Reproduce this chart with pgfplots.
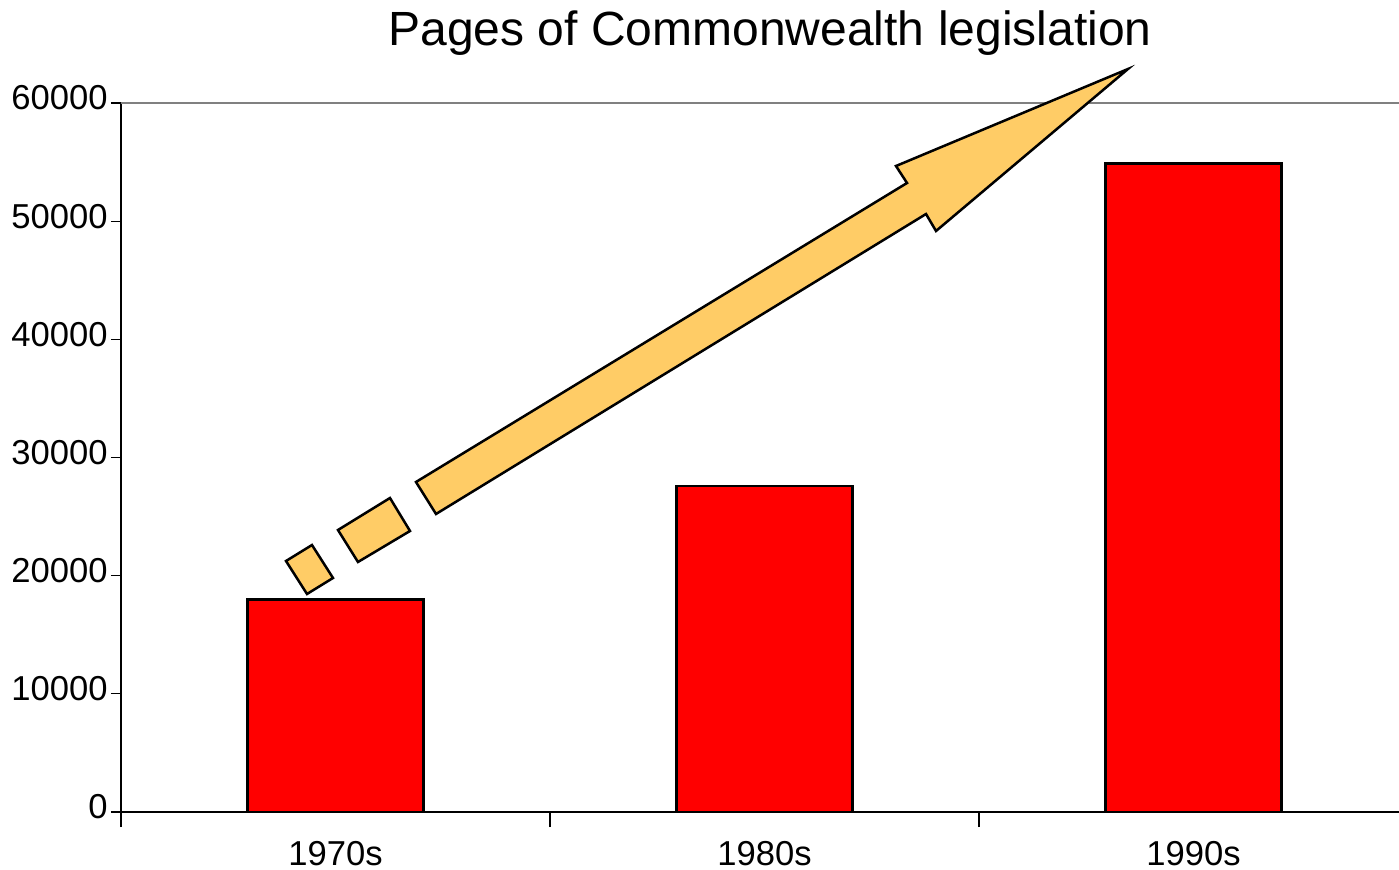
\documentclass[border=0pt]{standalone}
\usepackage{pgfplots}
\pgfplotsset{compat=1.18}
\usepackage{fontspec}
\setmainfont{Liberation Sans}
\definecolor{arrowfill}{HTML}{FFCC66}
\definecolor{toprule}{HTML}{808080}
\begin{document}
\begin{tikzpicture}
\path[use as bounding box] (0,0) rectangle (699.5bp,435bp);
\begin{axis}[
    at={(60.5bp,29bp)}, anchor=south west,
    scale only axis,
    width=643.5bp, height=354.5bp,
    xmin=-0.5, xmax=2.5,
    ymin=0, ymax=60000,
    clip=false,
    axis x line*=bottom, axis y line*=left,
    axis line style={black, line width=0.75bp},
    tick align=outside,
    major tick length=5bp,
    tick style={black, line width=0.6bp},
    xtick={0,1,2},
    xticklabels={1970s,1980s,1990s},
    major x tick style={draw=none},
    extra x ticks={-0.5,0.5,1.5,2.5},
    extra x tick labels={},
    extra x tick style={major tick length=7.5bp, major x tick style={draw=black, line width=0.6bp}},
    ytick={0,10000,...,60000},
    scaled y ticks=false,
    /pgf/number format/1000 sep={},
    /pgf/number format/assume math mode=true,
    tick label style={font=\fontsize{17.3bp}{20bp}\selectfont, inner sep=0pt},
    yticklabel style={xshift=-1.5bp, yshift=2.5bp},
    xticklabel style={yshift=-9.5bp},
    title={Pages of Commonwealth legislation},
    title style={at={(rel axis cs:0.5043,1)}, anchor=base, yshift=23bp,
        inner sep=0pt, font=\fontsize{24bp}{28bp}\selectfont},
]
\draw[toprule, line width=1bp] (rel axis cs:0,1) -- (rel axis cs:1,1);

\addplot[ybar, bar width=0.41, fill=red, draw=black, line width=1.25bp]
    coordinates {(0,18000) (1,27600) (2,54900)};

% rising arrow, broken into pieces at its tail
\draw[fill=arrowfill, draw=black, line width=1.25bp, line join=miter, miter limit=25]
    (axis cs:0.1876,27927) -- (axis cs:1.3322,53230) -- (axis cs:1.3065,54668)
    -- (axis cs:1.8473,62877) -- (axis cs:1.3998,49168) -- (axis cs:1.3765,50606)
    -- (axis cs:0.2343,25219) -- cycle;
\draw[fill=arrowfill, draw=black, line width=1.25bp, line join=miter]
    (axis cs:0.0058,23865) -- (axis cs:0.1270,26573) -- (axis cs:0.1737,23780)
    -- (axis cs:0.0524,21157) -- cycle;
\draw[fill=arrowfill, draw=black, line width=1.25bp, line join=miter]
    (axis cs:-0.1154,21241) -- (axis cs:-0.0548,22595) -- (axis cs:-0.0058,19802)
    -- (axis cs:-0.0664,18448) -- cycle;
\end{axis}
\end{tikzpicture}
\end{document}
